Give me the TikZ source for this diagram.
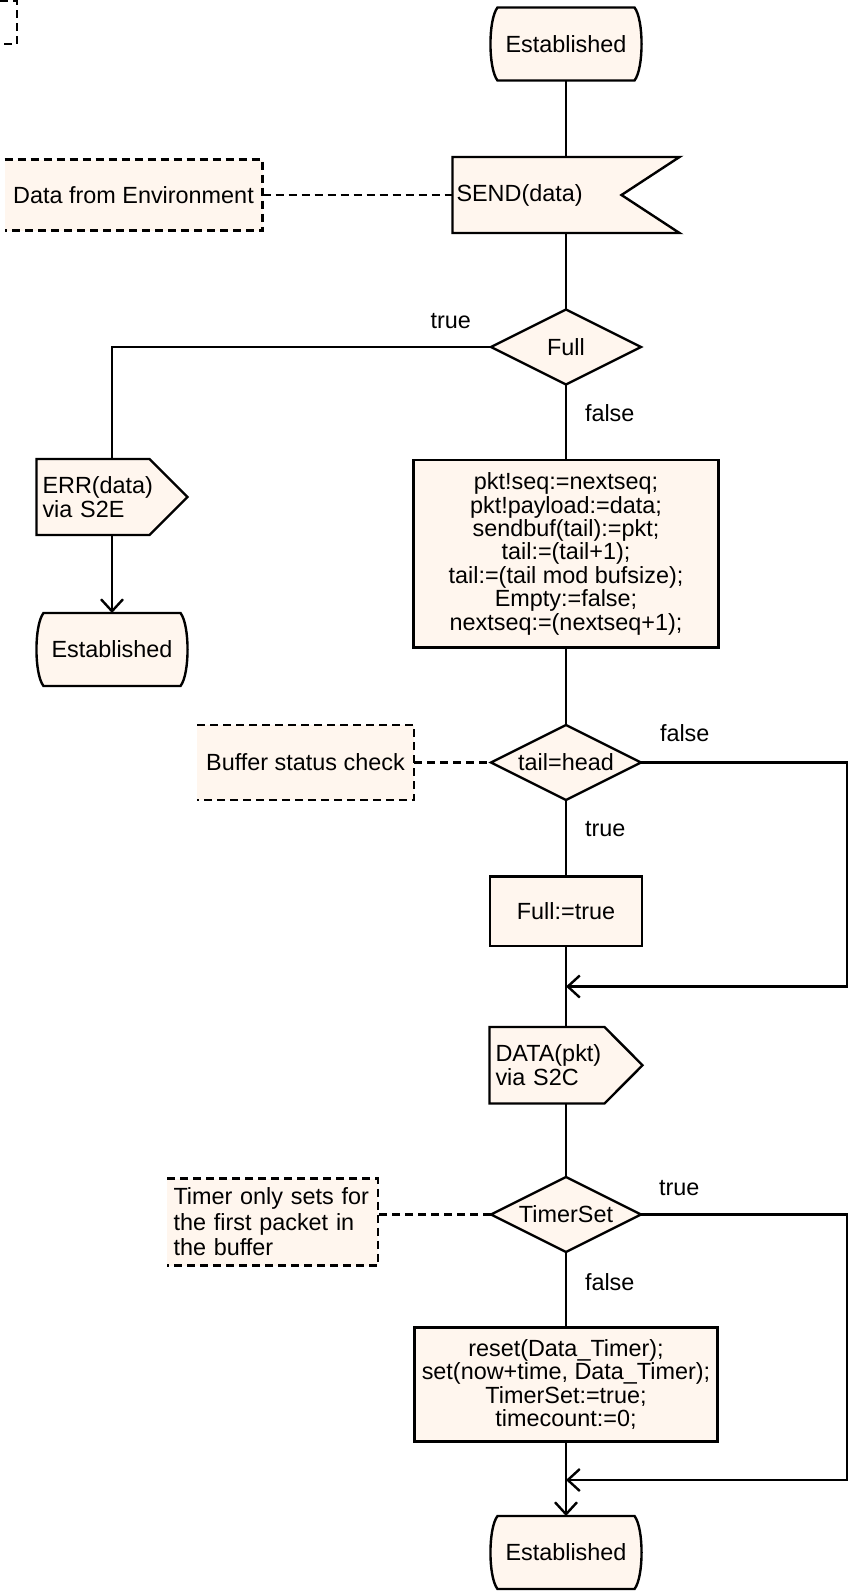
\documentclass[tikz,border=0pt]{standalone}
\usepackage{fontspec}
\setmainfont{Liberation Sans}
\usetikzlibrary{arrows.meta,positioning,shapes.geometric}
\definecolor{sdlfill}{RGB}{255,246,238}
\pgfdeclarelayer{back}
\pgfsetlayers{back,main}
\newcommand{\sdlfont}{\fontsize{11.7bp}{11.7bp}\selectfont}
\newcommand{\notefont}{\fontsize{11.7bp}{12.7bp}\selectfont}

\begin{document}
\begin{tikzpicture}[
    node distance=38bp,
    line width=1.2bp,
    every node/.style={font=\sdlfont, outer sep=0pt},
    outline/.style={draw, fill=sdlfill, line width=1.2bp},
    link/.style={line width=1.2bp},
    state/.style={rectangle, minimum width=75.5bp, minimum height=36.5bp},
    decision/.style={diamond, aspect=2, outline, inner sep=0pt,
                     minimum width=75bp, minimum height=37.5bp},
    task/.style={rectangle, outline, align=center, inner xsep=2bp, minimum width=152.5bp},
    signalbox/.style={rectangle, align=left, minimum height=38bp},
    note/.style={rectangle, fill=sdlfill, minimum height=37.5bp},
    noteline/.style={line width=1.2bp, dash pattern=on 4bp off 2.5bp},
    flow/.style={link, -{Straight Barb[length=6bp,width=11bp]}},
    lbl/.style={inner sep=0pt}
  ]
    \useasboundingbox (0,0) rectangle (424.5bp,-798bp);
    \coordinate (rail) at (423.5bp,0);

    % main column
    \node[state] (est1) at (283bp,-22bp) {Established};
    \node[signalbox, below=38.25bp of est1, minimum width=113.5bp, text width=109.5bp,
          inner xsep=2bp] (send) {SEND(data)};
    \node[decision, below=38.25bp of send] (full) {Full};
    \node[task, below=37.75bp of full, minimum height=93.75bp] (update)
      {pkt!seq:=nextseq;\\pkt!payload:=data;\\sendbuf(tail):=pkt;\\tail:=(tail+1);\\
       tail:=(tail mod bufsize);\\Empty:=false;\\nextseq:=(nextseq+1);};
    \node[decision, below=38.75bp of update] (check) {tail=head};
    \node[task, below=38.25bp of check, minimum width=76bp, minimum height=34.75bp] (setfull)
      {Full:=true};
    \coordinate[below=20.25bp of setfull] (join1);
    \node[signalbox, below=40.5bp of setfull, minimum width=76.5bp, text width=70.5bp,
          inner xsep=3bp, minimum height=38.25bp] (datasig) {DATA(pkt)\\via S2C};
    \node[decision, below=36.75bp of datasig] (timer) {TimerSet};
    \node[task, below=37.75bp of timer, minimum width=151.5bp, minimum height=57bp] (settimer)
      {reset(Data\_Timer);\\set(now+time, Data\_Timer);\\TimerSet:=true;\\timecount:=0;};
    \coordinate[below=19.25bp of settimer] (join2);
    \node[state, below=37.25bp of settimer] (est3) {Established};

    % error branch
    \node[signalbox, minimum width=75.5bp, text width=69.5bp, inner xsep=3bp] (errsig)
      at (56bp,-248.5bp) {ERR(data)\\via S2E};
    \node[state, below=39bp of errsig] (est2) {Established};

    % comments
    \node[note, left=95bp of send, minimum width=129bp, minimum height=35.5bp] (envnote)
      {Data from Environment};
    \node[note, left=38.5bp of check, minimum width=108.5bp] (bufnote) {Buffer status check};
    \node[note, left=56.5bp of timer, yshift=-3.75bp, minimum width=105.5bp,
          minimum height=43.5bp, text width=99bp, align=left, inner xsep=3.25bp,
          font=\notefont] (timernote) {Timer only sets for\\the first packet in\\the buffer};

    % state and signal outlines
    \begin{pgfonlayer}{back}
      \foreach \s in {est1,est2,est3}
        \filldraw[outline] ([xshift=3.5bp]\s.north west) -- ([xshift=-3.5bp]\s.north east)
          .. controls ([xshift=1.2bp,yshift=-6bp]\s.north east)
                  and ([xshift=1.2bp,yshift=6bp]\s.south east) .. ([xshift=-3.5bp]\s.south east)
          -- ([xshift=3.5bp]\s.south west)
          .. controls ([xshift=-1.2bp,yshift=6bp]\s.south west)
                  and ([xshift=-1.2bp,yshift=-6bp]\s.north west) .. cycle;
      \filldraw[outline] (send.north west) -- (send.north east) -- ([xshift=-29bp]send.east)
        -- (send.south east) -- (send.south west) -- cycle;
      \foreach \s in {errsig,datasig}
        \filldraw[outline] (\s.north west) -- ([xshift=-19bp]\s.north east) -- (\s.east)
          -- ([xshift=-19bp]\s.south east) -- (\s.south west) -- cycle;
    \end{pgfonlayer}
    \foreach \n in {envnote,bufnote,timernote}
      \draw[noteline] (\n.north west) -- (\n.north east) -- (\n.south east) -- (\n.south west);
    \draw[noteline] (0,-0.5bp) -- (8.5bp,-0.5bp) -- (8.5bp,-22bp) -- (1.5bp,-22bp);

    % connectors
    \draw[link] (est1) -- (send);
    \draw[link] (send) -- (full);
    \draw[link] (full) -- (update);
    \draw[link] (full.west) -| (errsig);
    \draw[flow] (errsig) -- (est2);
    \draw[link] (update) -- (check);
    \draw[link] (check) -- (setfull);
    \draw[link] (setfull) -- (datasig);
    \draw[flow] (check.east) -- (check.east -| rail) |- (join1);
    \draw[link] (datasig) -- (timer);
    \draw[link] (timer) -- (settimer);
    \draw[flow] (timer.east) -- (timer.east -| rail) |- (join2);
    \draw[flow] (settimer) -- (est3);
    \draw[noteline] (envnote) -- (send);
    \draw[noteline] (bufnote) -- (check);
    \draw[noteline] (timer.west) -- (timer.west -| timernote.east);

    % branch labels
    \node[lbl, above left=9bp and 10bp of full.west] (fullyes) {true};
    \node[lbl, below right=10bp and 9.5bp of full.south] (fullno) {false};
    \node[lbl, above right=10.5bp and 9.5bp of check.east] (checkno) {false};
    \node[lbl, below right=10.5bp and 9.5bp of check.south] (checkyes) {true};
    \node[lbl, above right=9.5bp and 9bp of timer.east] (timeryes) {true};
    \node[lbl, below right=11bp and 9.5bp of timer.south] (timerno) {false};
  \end{tikzpicture}
\end{document}
